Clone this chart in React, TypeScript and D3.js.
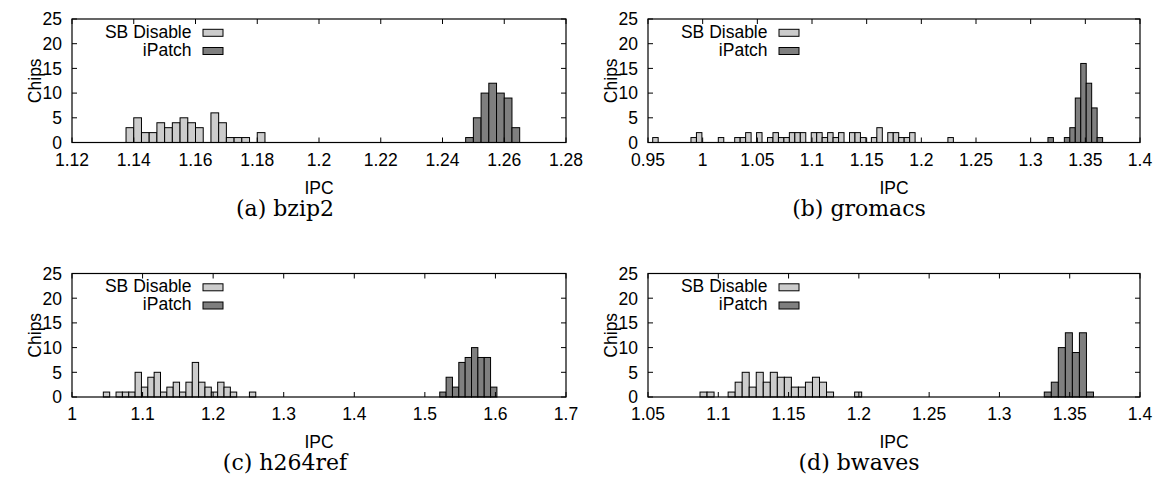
import React from 'react';
import * as d3 from 'd3';

const yTicks = [0, 5, 10, 15, 20, 25];
const legendNames = ['SB Disable', 'iPatch'];
const barColors = ['#cccccc', '#7f7f7f'];

// (a) bzip2
const bzip2Ticks = [1.12, 1.14, 1.16, 1.18, 1.2, 1.22, 1.24, 1.26, 1.28];
const bzip2Bin = 0.0025;
const bzip2SbStart = 1.1375;
const bzip2Sb = [3, 5, 2, 2, 4, 3, 4, 5, 4, 3, 0, 6, 4, 1, 1, 1, 0, 2];
const bzip2IpStart = 1.2475;
const bzip2Ip = [1, 5, 10, 12, 10, 9, 3];

// (b) gromacs
const gromacsTicks = [0.95, 1, 1.05, 1.1, 1.15, 1.2, 1.25, 1.3, 1.35, 1.4];
const gromacsBin = 0.005;
const gromacsSbStart = 0.9543;
const gromacsSb = [
  1, 0, 0, 0, 0, 0, 0, 1, 2, 0, 0, 0, 1, 0, 0, 1, 1, 2, 0, 2,
  0, 1, 2, 1, 1, 2, 2, 2, 0, 2, 2, 1, 2, 1, 2, 0, 2, 2, 1, 0,
  1, 3, 0, 2, 2, 1, 1, 2, 0, 0, 0, 0, 0, 0, 1,
];
const gromacsIpStart = 1.3158;
const gromacsIp = [1, 0, 0, 1, 3, 9, 16, 12, 7, 1];

// (c) h264ref
const h264Ticks = [1, 1.1, 1.2, 1.3, 1.4, 1.5, 1.6, 1.7];
const h264Bin = 0.009;
const h264SbStart = 1.0444;
const h264Sb = [1, 0, 1, 1, 1, 5, 2, 4, 5, 1, 2, 3, 1, 3, 7, 3, 2, 1, 3, 2, 1, 0, 0, 1];
const h264IpStart = 1.5211;
const h264Ip = [1, 4, 2, 7, 8, 10, 8, 8, 2];

// (d) bwaves
const bwavesTicks = [1.05, 1.1, 1.15, 1.2, 1.25, 1.3, 1.35, 1.4];
const bwavesBin = 0.005;
const bwavesSbStart = 1.087;
const bwavesSb = [1, 1, 0, 0, 1, 3, 5, 2, 5, 3, 5, 4, 4, 2, 2, 3, 4, 3, 1, 0, 0, 0, 1];
const bwavesIpStart = 1.3319;
const bwavesIp = [1, 3, 10, 13, 9, 13, 1];

const panels = [
  { caption: '(a) bzip2', ticks: bzip2Ticks, bin: bzip2Bin,
    series: [{ start: bzip2SbStart, counts: bzip2Sb }, { start: bzip2IpStart, counts: bzip2Ip }] },
  { caption: '(b) gromacs', ticks: gromacsTicks, bin: gromacsBin,
    series: [{ start: gromacsSbStart, counts: gromacsSb }, { start: gromacsIpStart, counts: gromacsIp }] },
  { caption: '(c) h264ref', ticks: h264Ticks, bin: h264Bin,
    series: [{ start: h264SbStart, counts: h264Sb }, { start: h264IpStart, counts: h264Ip }] },
  { caption: '(d) bwaves', ticks: bwavesTicks, bin: bwavesBin,
    series: [{ start: bwavesSbStart, counts: bwavesSb }, { start: bwavesIpStart, counts: bwavesIp }] },
];

// frame boxes of the four plots
const frames = [
  { x0: 72, x1: 566, y0: 19, y1: 142.5, cx: 285 },
  { x0: 648, x1: 1140, y0: 19, y1: 142.5, cx: 859 },
  { x0: 72, x1: 566, y0: 273.5, y1: 397, cx: 285 },
  { x0: 648, x1: 1140, y0: 273.5, y1: 397, cx: 859 },
];

const sans = '"Liberation Sans", Arial, sans-serif';
const serif = '"DejaVu Serif", "Liberation Serif", serif';

const Txt = ({ x, y, anchor = 'middle', rotate = 0, children }: any) => (
  <text
    transform={`translate(${x},${y}) rotate(${rotate})`}
    textAnchor={anchor}
    fontFamily={sans}
    fontSize={17.5}
    fill="#000"
  >
    {children}
  </text>
);

const Panel = ({ p, f }: any) => {
  const x = d3.scaleLinear().domain([p.ticks[0], p.ticks[p.ticks.length - 1]]).range([f.x0, f.x1]);
  const y = d3.scaleLinear().domain([0, 25]).range([f.y1, f.y0]);
  const tl = 5;
  return (
    <g>
      {p.series.map((s: any, si: number) =>
        s.counts.map((c: number, i: number) => {
          if (!c) return null;
          const a = x(s.start + i * p.bin);
          const b = x(s.start + (i + 1) * p.bin);
          return (
            <rect key={`${si}-${i}`} x={a} y={y(c)} width={b - a} height={y(0) - y(c)}
              fill={barColors[si]} stroke="#000" strokeWidth={1} />
          );
        })
      )}
      <rect x={f.x0} y={f.y0} width={f.x1 - f.x0} height={f.y1 - f.y0} fill="none" stroke="#000" strokeWidth={1.2} />
      {p.ticks.map((t: number, i: number) => (
        <g key={'xt' + i}>
          <line x1={x(t)} x2={x(t)} y1={f.y1} y2={f.y1 - tl} stroke="#000" />
          <line x1={x(t)} x2={x(t)} y1={f.y0} y2={f.y0 + tl} stroke="#000" />
          <Txt x={x(t)} y={f.y1 + 23}>{String(t)}</Txt>
        </g>
      ))}
      {yTicks.map((t) => (
        <g key={'yt' + t}>
          <line x1={f.x0} x2={f.x0 + tl} y1={y(t)} y2={y(t)} stroke="#000" />
          <line x1={f.x1} x2={f.x1 - tl} y1={y(t)} y2={y(t)} stroke="#000" />
          <Txt x={f.x0 - 10} y={y(t) + 6.3} anchor="end">{String(t)}</Txt>
        </g>
      ))}
      {legendNames.map((n, i) => (
        <g key={n}>
          <Txt x={f.x0 + 119.5} y={f.y0 + 18.5 + i * 18.4} anchor="end">{n}</Txt>
          <rect x={f.x0 + 131} y={f.y0 + 10.3 + i * 18.2} width={20} height={7}
            fill={barColors[i]} stroke="#000" strokeWidth={1} />
        </g>
      ))}
      <Txt x={f.x0 - 31} y={(f.y0 + f.y1) / 2} rotate={-90}>Chips</Txt>
      <Txt x={(f.x0 + f.x1) / 2} y={f.y1 + 51}>IPC</Txt>
      <text x={f.cx} y={f.y1 + 73} textAnchor="middle" fontFamily={serif} fontSize={22}>{p.caption}</text>
    </g>
  );
};

export default function App() {
  return (
    <svg width={1158} height={487} style={{ position: 'absolute', left: 0, top: 0, background: '#fff' }}>
      {panels.map((p, i) => (
        <Panel key={p.caption} p={p} f={frames[i]} />
      ))}
    </svg>
  );
}
